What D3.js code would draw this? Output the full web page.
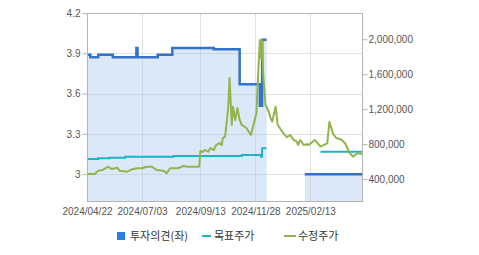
<!DOCTYPE html>
<html>
<head>
<meta charset="utf-8">
<script src="https://cdn.jsdelivr.net/npm/d3@7"></script>
<style>
  body { margin: 0; background: #fff; }
  svg text { font-family: "Liberation Sans", Arial, sans-serif; }
  .legend text { font-family: "Noto Sans CJK KR", sans-serif; }
</style>
</head>
<body>
<svg id="chart" width="479" height="255"></svg>
<script>
// x positions are trading-day indices (0 = 2024/04/22)
const xTickIdx = [0, 49, 101, 150, 199];
const xTickLabels = ["2024/04/22", "2024/07/03", "2024/09/13", "2024/11/28", "2025/02/13"];

const leftTicks = [3, 3.3, 3.6, 3.9, 4.2];
const leftTickLabels = ["3", "3.3", "3.6", "3.9", "4.2"];
const rightTicks = [400000, 800000, 1200000, 1600000, 2000000];

// 투자의견 (left axis), null = no opinion
const opinionIdx = [0, 3, 10, 23, 44, 45, 63, 76, 113, 136, 154, 156, 160, 161, 194, 245];
const opinionVal = [3.89, 3.87, 3.89, 3.87, 3.94, 3.87, 3.89, 3.94, 3.93, 3.67, 3.51, 4.0, 4.0, null, 3.0, 3.0];

// 목표주가 (right axis)
const targetIdx = [0, 10, 20, 34, 77, 138, 155, 156, 160, 161, 208, 245];
const targetVal = [630000, 638000, 645000, 657000, 665000, 676000, 657000, 753000, 753000, null, 714000, 714000];

// 수정주가 (right axis)
const priceIdx = [0, 7, 10, 14, 19, 22, 27, 29, 36, 40, 45, 49, 53, 58, 62, 68, 71, 74, 81, 86, 90, 98, 100,
  101, 103, 105, 108, 110, 113, 115, 118, 120, 121, 123, 125, 126, 127, 129, 130, 132, 134, 136, 138, 142,
  146, 149, 151, 152, 154, 155, 156, 157, 159, 162, 163, 165, 168, 170, 175, 178, 181, 184, 187, 188, 190,
  193, 196, 197, 200, 203, 208, 214, 216, 219, 222, 225, 227, 230, 234, 237, 241, 245];
const priceVal = [459000, 459000, 497000, 505000, 542000, 516000, 531000, 497000, 485000, 513000, 524000,
  524000, 542000, 542000, 505000, 497000, 467000, 524000, 524000, 550000, 542000, 542000, 545000,
  722000, 710000, 735000, 714000, 756000, 733000, 790000, 813000, 790000, 870000, 885000, 1114000,
  1248000, 1557000, 1019000, 1228000, 1076000, 1213000, 1076000, 1019000, 985000,
  905000, 1057000, 1156000, 1477000, 1991000, 1785000, 1991000, 1591000, 1248000, 1171000, 1115000,
  1057000, 1228000, 1019000, 924000, 880000, 905000, 850000, 828000, 790000, 848000,
  790000, 800000, 790000, 815000, 848000, 771000, 810000, 1057000, 924000, 870000, 860000, 848000,
  810000, 699000, 657000, 696000, 688000];

const svg = d3.select("#chart");
const plot = { left: 87, right: 362, top: 13, bottom: 201 };

const x = d3.scaleLinear().domain([0, 245]).range([plot.left, plot.right]);
const yL = d3.scaleLinear().domain([2.8, 4.2]).range([plot.bottom, plot.top]);
const yR = d3.scaleLinear().domain([150000, 2300000]).range([plot.bottom, plot.top]);

const opinion = opinionIdx.map((d, i) => ({ i: d, v: opinionVal[i] }));
const target = targetIdx.map((d, i) => ({ i: d, v: targetVal[i] }));
const price = priceIdx.map((d, i) => ({ i: d, v: priceVal[i] }));

// grid
const grid = svg.append("g").attr("stroke", "#e1e1e1").attr("shape-rendering", "crispEdges");
grid.selectAll(".h").data(leftTicks.slice(0, 4)).join("line")
  .attr("x1", plot.left).attr("x2", plot.right)
  .attr("y1", d => Math.round(yL(d)) + 0.5).attr("y2", d => Math.round(yL(d)) + 0.5);
grid.selectAll(".v").data(xTickIdx.slice(1)).join("line")
  .attr("x1", d => Math.round(x(d)) + 0.5).attr("x2", d => Math.round(x(d)) + 0.5)
  .attr("y1", plot.top).attr("y2", plot.bottom);

// opinion area + line
svg.append("path")
  .datum(opinion)
  .attr("fill", "#a9c8ef")
  .attr("fill-opacity", 0.42)
  .attr("d", d3.area().defined(d => d.v !== null).curve(d3.curveStepAfter)
    .x(d => x(d.i)).y0(plot.bottom).y1(d => yL(d.v)));

svg.append("path")
  .datum(opinion)
  .attr("fill", "none")
  .attr("stroke", "#3373c9")
  .attr("stroke-width", 2.5)
  .attr("d", d3.line().defined(d => d.v !== null).curve(d3.curveStepAfter)
    .x(d => x(d.i)).y(d => yL(d.v)));

svg.append("path")
  .datum(target)
  .attr("fill", "none")
  .attr("stroke", "#1fb3c6")
  .attr("stroke-width", 2)
  .attr("d", d3.line().defined(d => d.v !== null).curve(d3.curveStepAfter)
    .x(d => x(d.i)).y(d => yR(d.v)));

svg.append("path")
  .datum(price)
  .attr("fill", "none")
  .attr("stroke", "#8fb54c")
  .attr("stroke-width", 2)
  .attr("stroke-linejoin", "round")
  .attr("d", d3.line().x(d => x(d.i)).y(d => yR(d.v)));

// frame
svg.append("rect")
  .attr("x", plot.left + 0.5).attr("y", plot.top + 0.5)
  .attr("width", plot.right - plot.left).attr("height", plot.bottom - plot.top)
  .attr("fill", "none").attr("stroke", "#b4b4b4");

// axes
const styleAxis = g => {
  g.select(".domain").remove();
  g.selectAll(".tick line").attr("stroke", "#b4b4b4");
  g.selectAll(".tick text").attr("fill", "#555").style("font-size", "10px");
};

svg.append("g")
  .attr("transform", `translate(${plot.left + 0.5},0)`)
  .call(d3.axisLeft(yL).tickValues(leftTicks).tickSize(5).tickPadding(2)
    .tickFormat((d, i) => leftTickLabels[i]))
  .call(styleAxis);

svg.append("g")
  .attr("transform", `translate(${plot.right + 0.5},0)`)
  .call(d3.axisRight(yR).tickValues(rightTicks).tickSize(5).tickPadding(1)
    .tickFormat(d3.format(",")))
  .call(styleAxis);

svg.append("g")
  .attr("transform", `translate(0,${plot.bottom})`)
  .call(d3.axisBottom(x).tickValues(xTickIdx).tickSize(0).tickPadding(7)
    .tickFormat((d, i) => xTickLabels[i]))
  .call(styleAxis);

// legend
const legend = svg.append("g").attr("class", "legend");
legend.append("rect").attr("x", 117).attr("y", 232).attr("width", 8).attr("height", 8).attr("fill", "#2b7de0");
legend.append("text").attr("x", 130).attr("y", 240).text("투자의견(좌)");
legend.append("line").attr("x1", 202).attr("x2", 211).attr("y1", 236).attr("y2", 236)
  .attr("stroke", "#1fb3c6").attr("stroke-width", 2);
legend.append("text").attr("x", 214).attr("y", 240).text("목표주가");
legend.append("line").attr("x1", 284).attr("x2", 296).attr("y1", 236).attr("y2", 236)
  .attr("stroke", "#8fb54c").attr("stroke-width", 2);
legend.append("text").attr("x", 298).attr("y", 240).text("수정주가");
legend.selectAll("text").attr("fill", "#333").style("font-size", "11px");
</script>
</body>
</html>
